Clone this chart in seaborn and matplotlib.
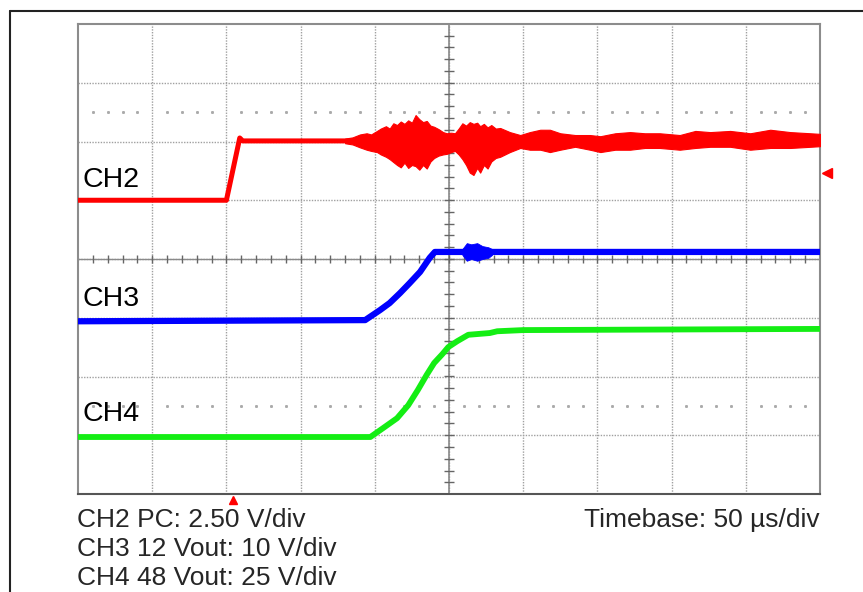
import numpy as np
import matplotlib
matplotlib.use("Agg")
import matplotlib.pyplot as plt
from matplotlib.lines import Line2D
import seaborn as sns

# scope screen units: time in divisions (50 us/div), level in divisions from centre
ch2_t = [0.0, 2.0, 2.18, 2.22, 10.0]
ch2_v = [1.0, 1.0, 2.06, 2.01, 2.01]
# CH2 noise envelope once the converters start switching
ch2_noise_t = [3.60, 3.70, 3.80, 3.89, 3.95, 4.03, 4.08, 4.15, 4.20, 4.25, 4.30, 4.35,
               4.40, 4.45, 4.50, 4.55, 4.60, 4.65, 4.70, 4.75, 4.80, 4.86, 4.92, 4.97,
               5.03, 5.08, 5.13, 5.18, 5.23, 5.28, 5.33, 5.38, 5.42, 5.47, 5.52, 5.57,
               5.63, 5.69, 5.82, 5.96, 6.09, 6.23, 6.36, 6.50, 6.70, 6.90, 7.04, 7.24,
               7.44, 7.64, 7.84, 8.11, 8.32, 8.52, 8.79, 9.06, 9.33, 9.60, 9.87, 10.0]
ch2_noise_hi = [2.05, 2.07, 2.12, 2.14, 2.12, 2.18, 2.22, 2.26, 2.22, 2.31, 2.28, 2.34,
                2.30, 2.36, 2.32, 2.45, 2.38, 2.33, 2.35, 2.27, 2.25, 2.21, 2.16, 2.14,
                2.15, 2.14, 2.22, 2.31, 2.27, 2.33, 2.30, 2.32, 2.26, 2.30, 2.24, 2.28,
                2.22, 2.23, 2.16, 2.11, 2.16, 2.20, 2.20, 2.14, 2.11, 2.11, 2.09, 2.14,
                2.16, 2.14, 2.14, 2.11, 2.18, 2.16, 2.18, 2.14, 2.20, 2.16, 2.14, 2.13]
ch2_noise_lo = [1.97, 1.95, 1.90, 1.86, 1.84, 1.82, 1.78, 1.74, 1.70, 1.65, 1.60, 1.56,
                1.64, 1.55, 1.60, 1.58, 1.52, 1.60, 1.54, 1.66, 1.72, 1.76, 1.78, 1.79,
                1.82, 1.84, 1.78, 1.70, 1.60, 1.47, 1.43, 1.55, 1.47, 1.60, 1.54, 1.66,
                1.72, 1.74, 1.82, 1.89, 1.86, 1.86, 1.82, 1.86, 1.91, 1.86, 1.82, 1.86,
                1.86, 1.89, 1.89, 1.86, 1.89, 1.91, 1.91, 1.86, 1.89, 1.89, 1.91, 1.92]

ch3_t = [0.0, 3.87, 4.07, 4.20, 4.34, 4.47, 4.61, 4.74, 4.81, 10.0]
ch3_v = [-1.06, -1.04, -0.87, -0.75, -0.58, -0.41, -0.22, 0.02, 0.12, 0.12]
ch3_burst_t = [5.18, 5.24, 5.30, 5.38, 5.45, 5.53, 5.58]
ch3_burst_hi = [0.17, 0.27, 0.25, 0.27, 0.22, 0.20, 0.17]
ch3_burst_lo = [0.07, -0.03, 0.00, -0.03, 0.00, 0.02, 0.07]

ch4_t = [0.0, 3.94, 4.11, 4.30, 4.45, 4.58, 4.70, 4.80, 4.91, 4.99, 5.11, 5.26, 5.55,
         5.65, 6.00, 10.0]
ch4_v = [-3.03, -3.03, -2.88, -2.71, -2.49, -2.23, -1.97, -1.77, -1.62, -1.50, -1.40,
         -1.29, -1.26, -1.23, -1.21, -1.19]

ch_names = ["CH2", "CH3", "CH4"]
ch_label_v = [1.34, -0.68, -2.64]
settings = ["CH2 PC: 2.50 V/div", "CH3 12 Vout: 10 V/div", "CH4 48 Vout: 25 V/div"]
timebase = "Timebase: 50 µs/div"
trig_t = 2.09
ch2_ref_v = 1.46

sns.set_style("white")
plt.rcParams['font.family'] = ['Liberation Sans', 'DejaVu Sans']

fig = plt.figure(figsize=(8.63, 5.92), dpi=100)
ax = fig.add_axes([78/863, 1-494/592, 742/863, 470/592])
ax.set_xlim(0, 10)
ax.set_ylim(-4, 4)

# graticule
ax.set_xticks(range(1, 10))
ax.set_yticks(range(-3, 4))
ax.grid(True, color='#a0a0a0', linestyle=(0, (1, 1)), lw=1.0, zorder=0)
ax.tick_params(length=0, labelbottom=False, labelleft=False)
ax.axvline(5, color='#8a8a8a', lw=1.2, zorder=1)
ax.axhline(0, color='#8a8a8a', lw=1.0, zorder=1)
minor = np.arange(0.2, 10, 0.2)
ax.plot(minor, np.zeros_like(minor), ls='none', marker='|', ms=6, color='#666', mew=1, zorder=1)
vminor = np.arange(-3.8, 4, 0.2)
ax.plot(np.full_like(vminor, 5.0), vminor, ls='none', marker='_', ms=7, color='#666', mew=1, zorder=1)
dots = minor[np.abs(minor - np.round(minor)) > 0.05]
for yy in (2.5, -2.5):
    ax.plot(dots, np.full_like(dots, yy), ls='none', marker='s', ms=1.1, color='#aaa', zorder=1)

for side in ax.spines:
    ax.spines[side].set_color('#8c8c8c')
    ax.spines[side].set_linewidth(1.5)
ax.spines['bottom'].set_color('#555555')

# traces
red, blue, green = '#ff0000', '#0000ff', '#14ee14'
sns.lineplot(x=ch2_t, y=ch2_v, color=red, lw=3.6, ax=ax, sort=False, estimator=None, zorder=3)
ax.fill_between(ch2_noise_t, ch2_noise_lo, ch2_noise_hi, color=red, lw=0.8, zorder=3)
sns.lineplot(x=ch3_t, y=ch3_v, color=blue, lw=4.5, ax=ax, sort=False, estimator=None, zorder=3)
ax.fill_between(ch3_burst_t, ch3_burst_lo, ch3_burst_hi, color=blue, lw=0.6, zorder=3)
sns.lineplot(x=ch4_t, y=ch4_v, color=green, lw=4.2, ax=ax, sort=False, estimator=None, zorder=3)
ax.set_xlabel('')
ax.set_ylabel('')

for name, v in zip(ch_names, ch_label_v):
    ax.text(0.06, v, name, fontsize=20.5, va='center', ha='left', color='black', zorder=4)

# markers outside the graticule
ax.plot([trig_t], [-4.1], marker='^', ms=6, color=red, clip_on=False, ls='none')
ax.plot([10.09], [ch2_ref_v], marker='<', ms=7, color=red, clip_on=False, ls='none')

for i, s in enumerate(settings):
    fig.text(77/863, 1 - (520 + 29*i)/592, s, fontsize=19, va='center', ha='left')
fig.text(820/863, 1 - 520/592, timebase, fontsize=19, va='center', ha='right')

# outer frame of the screenshot
fig.add_artist(Line2D([10/863, 10/863], [0, 1-11/592], color='#222', lw=1.5))
fig.add_artist(Line2D([10/863, 1], [1-11/592, 1-11/592], color='#222', lw=1.5))

fig.savefig('out.png', dpi=100)
